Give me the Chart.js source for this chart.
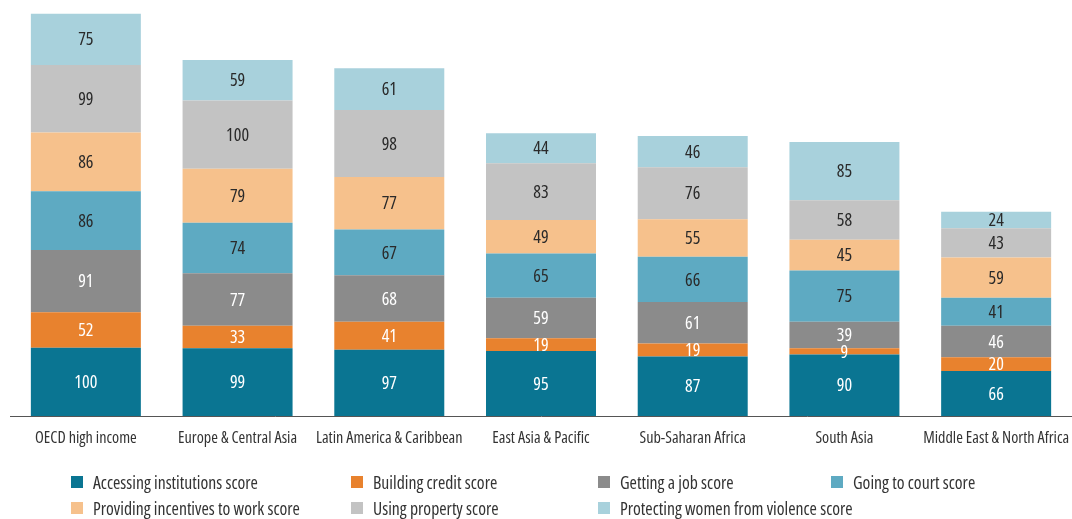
<!DOCTYPE html>
<html>
<head>
<meta charset="utf-8">
<script src="https://cdn.jsdelivr.net/npm/chart.js@4/dist/chart.umd.min.js"></script>
<style>
  html, body { margin: 0; padding: 0; background: #fff; }
  #wrap { position: relative; width: 1072px; height: 519px; overflow: hidden; }
  #c { position: absolute; left: 0; top: 0; }
  .lg { position: absolute; color: #333; white-space: nowrap; line-height: 16px; transform-origin: 0 50%; }
  .lg i { position: absolute; top: 2px; width: 12px; height: 12px; }
</style>
</head>
<body>
<div id="wrap">
  <canvas id="c" width="1072" height="519"></canvas>
  <div id="legend"></div>
</div>
<script>
const categories = ["OECD high income", "Europe & Central Asia", "Latin America & Caribbean", "East Asia & Pacific", "Sub-Saharan Africa", "South Asia", "Middle East & North Africa"];
const seriesNames = ["Accessing institutions score", "Building credit score", "Getting a job score", "Going to court score", "Providing incentives to work score", "Using property score", "Protecting women from violence score"];
const accessingInstitutions = [100, 99, 97, 95, 87, 90, 66];
const buildingCredit = [52, 33, 41, 19, 19, 9, 20];
const gettingJob = [91, 77, 68, 59, 61, 39, 46];
const goingToCourt = [86, 74, 67, 65, 66, 75, 41];
const providingIncentives = [86, 79, 77, 49, 55, 45, 59];
const usingProperty = [99, 100, 98, 83, 76, 58, 43];
const protectingWomen = [75, 59, 61, 44, 46, 85, 24];

const seriesValues = [accessingInstitutions, buildingCredit, gettingJob, goingToCourt, providingIncentives, usingProperty, protectingWomen];
const colors = ["#0a7592", "#e8822e", "#8b8b8b", "#5eaac2", "#f6c18c", "#c3c3c3", "#a8d1dc"];
const labelColors = ["#ffffff", "#ffffff", "#ffffff", "#2a2a2a", "#2a2a2a", "#2a2a2a", "#2a2a2a"];

// ---- font selection: prefer a condensed face via font-stretch ----
const mctx = document.createElement('canvas').getContext('2d');
const SAMPLE = 'Accessing institutions score 0123456789';
function w(fontStr, text) { mctx.font = fontStr; return mctx.measureText(text || SAMPLE).width; }
function hasFont(name) {
  return Math.abs(w('40px monospace') - w('40px "' + name + '", monospace')) > 0.5 ||
         Math.abs(w('40px serif') - w('40px "' + name + '", serif')) > 0.5;
}
let FAM = "Noto Sans", STRETCH = "";
const fams = ["Liberation Sans Narrow", "Open Sans", "Noto Sans", "DejaVu Sans", "Liberation Sans", "Roboto"];
outer:
for (const f of fams) {
  if (!hasFont(f)) continue;
  if (f === "Liberation Sans Narrow") { FAM = f; STRETCH = ""; break; }
  for (const s of ["condensed", "semi-condensed"]) {
    const n = w('16px "' + f + '"'), c = w(s + ' 16px "' + f + '"');
    if (c < 0.93 * n) { FAM = f; STRETCH = s; break outer; }
  }
}
const FAMILY = '"' + FAM + '", sans-serif';
const PRE = STRETCH ? STRETCH + ' ' : '';
function widthAt(text, size) { return w(PRE + size + 'px ' + FAMILY, text); }
// sizes fitted to reference text widths
const tickSize = Math.min(17, 15 * 102 / widthAt("OECD high income", 15));
const valueSize = Math.min(18, 17 * 23 / widthAt("100", 17));
const legendSize = Math.min(18, 16 * 165 / widthAt("Accessing institutions score", 16));
const legendScale = Math.min(1, 165 / widthAt("Accessing institutions score", legendSize));

// ---- legend ----
const legendCols = [93, 373, 620, 853];
const legendRows = [482, 508];
const lgEl = document.getElementById('legend');
seriesNames.forEach((name, k) => {
  const d = document.createElement('div');
  d.className = 'lg';
  d.style.fontFamily = FAMILY;
  if (STRETCH) d.style.fontStretch = STRETCH;
  d.style.fontSize = legendSize + 'px';
  d.style.left = legendCols[k % 4] + 'px';
  d.style.top = (legendRows[Math.floor(k / 4)] - 8) + 'px';
  d.style.transform = 'scaleX(' + legendScale + ')';
  d.innerHTML = '<i style="background:' + colors[k] + ';left:' + (-22 / legendScale) + 'px;width:' + (12 / legendScale) + 'px"></i>' + name;
  lgEl.appendChild(d);
});

const valueLabels = {
  id: 'valueLabels',
  afterDatasetsDraw(chart) {
    const ctx = chart.ctx;
    ctx.save();
    ctx.font = PRE + valueSize + 'px ' + FAMILY;
    ctx.textAlign = 'center';
    ctx.textBaseline = 'middle';
    chart.data.datasets.forEach((ds, i) => {
      const meta = chart.getDatasetMeta(i);
      meta.data.forEach((bar, j) => {
        const p = bar.getProps(['x', 'y', 'base'], true);
        ctx.fillStyle = labelColors[i];
        ctx.fillText(String(ds.data[j]), p.x, (p.y + p.base) / 2 + 1);
      });
    });
    ctx.restore();
  }
};

const tickFont = { family: FAMILY, size: tickSize };
if (STRETCH) tickFont.weight = STRETCH;

new Chart(document.getElementById('c'), {
  type: 'bar',
  data: {
    labels: categories,
    datasets: seriesValues.map((vals, i) => ({
      label: seriesNames[i],
      data: vals,
      backgroundColor: colors[i],
      borderWidth: 0,
      barPercentage: 0.725,
      categoryPercentage: 1
    }))
  },
  options: {
    responsive: false,
    animation: false,
    layout: { padding: { left: 10, right: 0, top: 0, bottom: 0 } },
    plugins: { legend: { display: false }, tooltip: { enabled: false } },
    scales: {
      x: {
        stacked: true,
        grid: { display: false },
        border: { display: true, color: '#555', width: 1 },
        ticks: { color: '#333', font: tickFont, padding: 5, maxRotation: 0, autoSkip: false },
        afterFit(scale) { scale.height = 519 - 416; scale.paddingLeft = 0; scale.paddingRight = 0; }
      },
      y: {
        stacked: true,
        display: false,
        min: 0,
        max: 609
      }
    }
  },
  plugins: [valueLabels]
});
</script>
</body>
</html>
